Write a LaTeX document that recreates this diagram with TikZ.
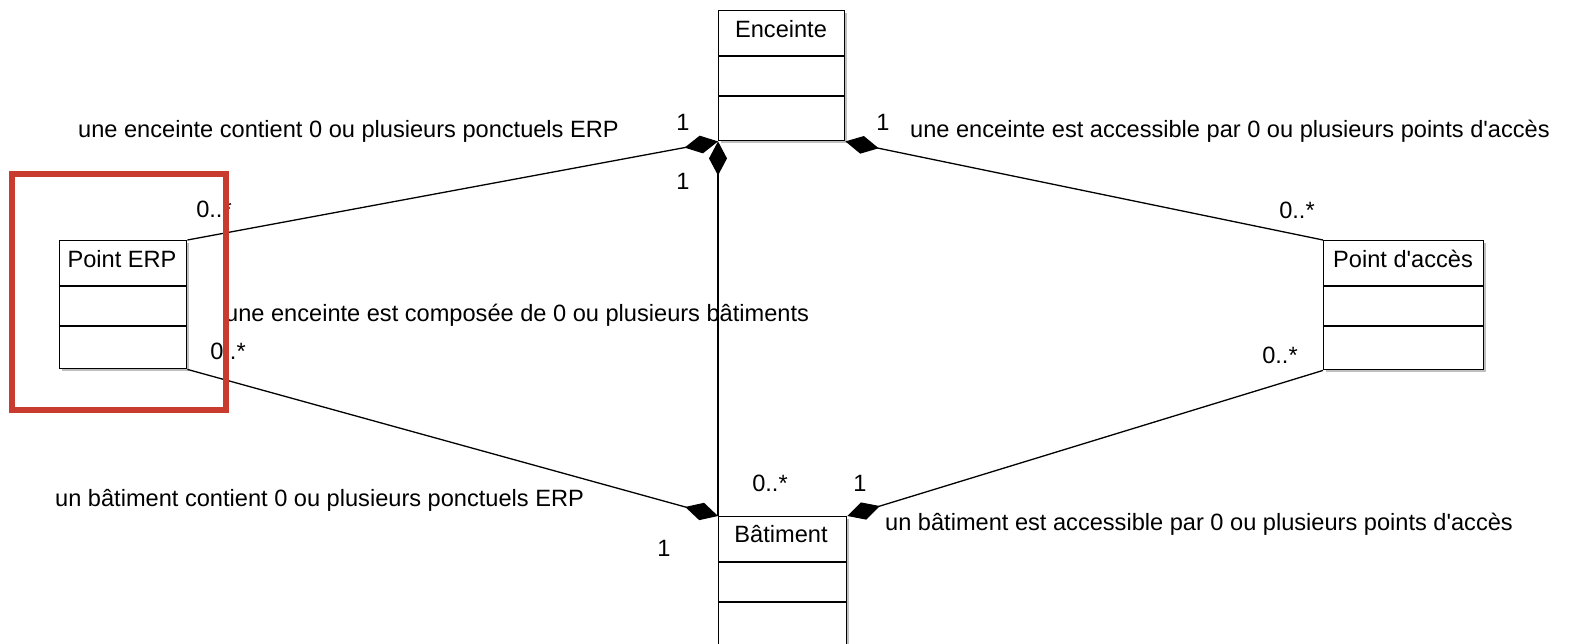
\documentclass[tikz,border=0pt]{standalone}
\usepackage{fontspec}
\setmainfont{Liberation Sans}
\usetikzlibrary{arrows.meta,shadows}
\definecolor{hlred}{HTML}{C93B2F}
\tikzset{
  cls/.style={draw=black, line width=1.4pt, fill=white, anchor=north west, inner sep=0pt,
    drop shadow={shadow xshift=2pt, shadow yshift=-2pt, fill=black!25, opacity=1}},
  txt/.style={font=\fontsize{23.6}{28}\selectfont, inner sep=0pt},
  comp/.style={line width=1.3pt, -{Diamond[length=34pt,width=18pt,fill=black]}},
  hl/.style={draw=hlred, line width=6pt},
}
\begin{document}
\begin{tikzpicture}[x=1pt,y=-1pt]
\useasboundingbox (0,0) rectangle (1570,643);
% classes
\node[cls, minimum width=126pt, minimum height=130pt] (enc) at (718,10) {};
\node[cls, minimum width=127pt, minimum height=128pt] (erp) at (59,240) {};
\node[cls, minimum width=160pt, minimum height=129pt] (acc) at (1323,240) {};
\node[cls, minimum width=128pt, minimum height=132pt] (bat) at (718,516) {};
% names
\node[txt] (encN) at (781,29) {Enceinte};
\node[txt] (erpN) at (122,259) {Point ERP};
\node[txt] (accN) at (1403,259) {Point d\textquotesingle accès};
\node[txt] (batN) at (781,534) {Bâtiment};
% compartments
\foreach \n in {enc,erp,acc,bat}{
  \draw[line width=1.4pt] ([yshift=-46pt]\n.north west) -- ([yshift=-46pt]\n.north east);
  \draw[line width=1.4pt] ([yshift=-86pt]\n.north west) -- ([yshift=-86pt]\n.north east);
}
% associations
\draw[comp] (erp.north east) -- (enc.south west);
\draw[comp] (bat.north west) -- (enc.south west);
\draw[comp] (acc.north west) -- (enc.south east);
\draw[comp] (erp.south east) -- (bat.north west);
\draw[comp] (acc.south west) -- (bat.north east);
% labels
\node[txt, anchor=west] (l1) at (78,131) {une enceinte contient 0 ou plusieurs ponctuels ERP};
\node[txt, anchor=west] (l2) at (910,131) {une enceinte est accessible par 0 ou plusieurs points d\textquotesingle accès};
\node[txt, anchor=west] (l3) at (225,315) {une enceinte est composée de 0 ou plusieurs bâtiments};
\node[txt, anchor=west] (l4) at (55,500) {un bâtiment contient 0 ou plusieurs ponctuels ERP};
\node[txt, anchor=west] (l5) at (885,524) {un bâtiment est accessible par 0 ou plusieurs points d\textquotesingle accès};
% multiplicities
\node[txt] (m1) at (683,122) {1};
\node[txt] (m2) at (883,122) {1};
\node[txt] (m3) at (683,181) {1};
\node[txt] (m4) at (214,209) {0..*};
\node[txt] (m5) at (228,351) {0..*};
\node[txt] (m6) at (1297,210) {0..*};
\node[txt] (m7) at (1280,355) {0..*};
\node[txt] (m8) at (770,483) {0..*};
\node[txt] (m9) at (860,483) {1};
\node[txt] (m10) at (664,548) {1};
% highlight
\draw[hl] (12,174) rectangle (226,410);
\end{tikzpicture}
\end{document}
